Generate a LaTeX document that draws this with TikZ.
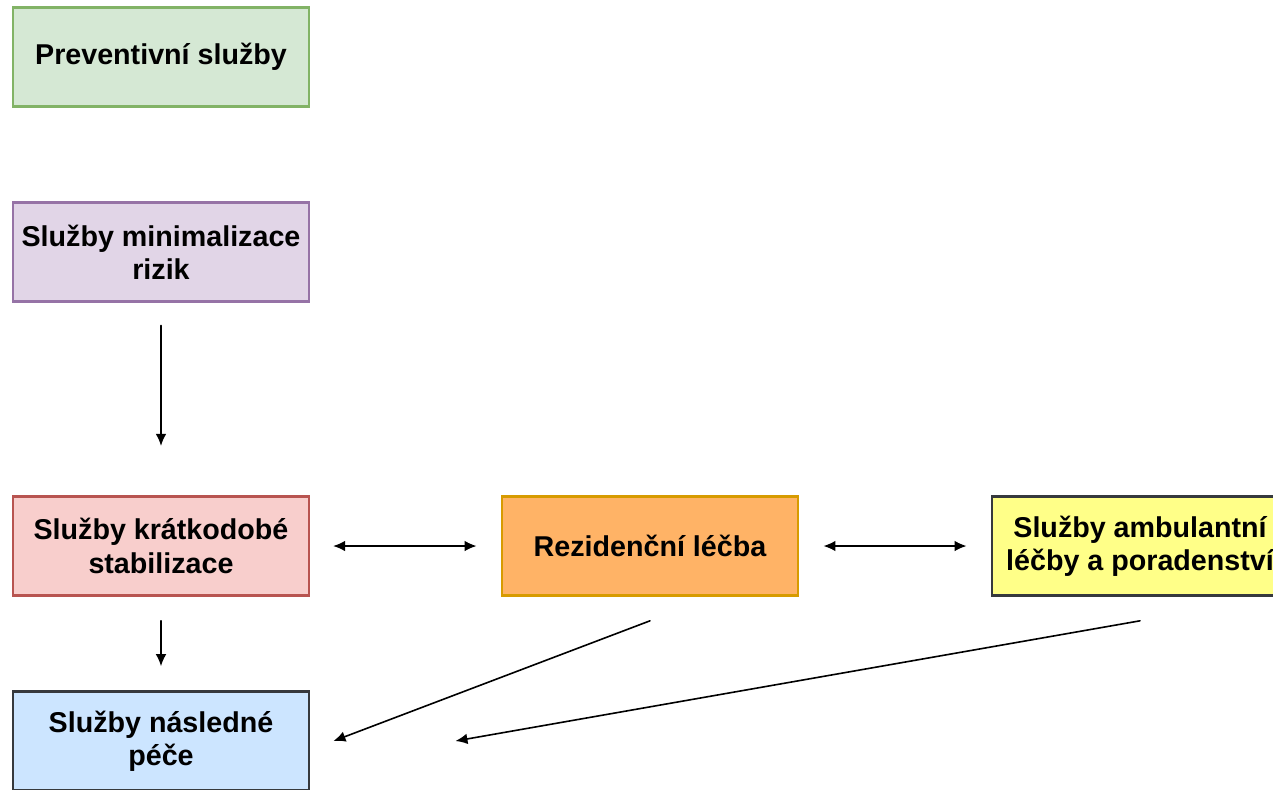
\documentclass[tikz,border=0pt]{standalone}
\usepackage{fontspec}
\setmainfont{Liberation Sans}
\usepackage{xcolor}
\usetikzlibrary{arrows.meta, calc}

\definecolor{prevfill}{HTML}{D5E8D4}
\definecolor{prevline}{HTML}{82B366}
\definecolor{minfill}{HTML}{E1D5E7}
\definecolor{minline}{HTML}{9673A6}
\definecolor{stabfill}{HTML}{F8CECC}
\definecolor{stabline}{HTML}{B85450}
\definecolor{rezfill}{HTML}{FFB366}
\definecolor{rezline}{HTML}{D79B00}
\definecolor{ambfill}{HTML}{FFFF88}
\definecolor{naslfill}{HTML}{CCE5FF}
\definecolor{darkline}{HTML}{36393D}

\tikzset{
  headtip/.tip={Latex[length=9pt, width=8pt]},
  service/.style={draw, line width=2.2pt, minimum width=222pt, minimum height=74pt,
    inner sep=0pt, align=center, font=\fontsize{21.5}{25}\selectfont\bfseries},
  flow/.style={line width=1.2pt, line cap=round}
}

\begin{document}
\begin{tikzpicture}[x=0.75pt, y=-0.75pt]
  \useasboundingbox (0,0) rectangle (1273,789);

  \node[service, fill=prevfill, draw=prevline] (prev) at (161,57) {Preventivní služby};
  \node[service, fill=minfill, draw=minline] (minrisk) at (161,252) {Služby minimalizace\\rizik};
  \node[service, fill=stabfill, draw=stabline] (stab) at (161,546) {Služby krátkodobé\\stabilizace};
  \node[service, fill=rezfill, draw=rezline] (rez) at (650,546) {Rezidenční léčba};
  \node[service, fill=ambfill, draw=darkline] (amb) at (1140,546) {Služby ambulantní\\léčby a poradenství};
  \node[service, fill=naslfill, draw=darkline] (nasl) at (161,741) {Služby následné\\péče};

  \coordinate (rezout) at ($(rez.south)+(0,24)$);
  \coordinate (ambout) at ($(amb.south)+(0,24)$);
  \coordinate (naslin1) at ($(nasl.east)+(23,0)$);
  \coordinate (naslin2) at ($(nasl.east)+(145,0)$);

  \draw[flow, -headtip, shorten <=17pt, shorten >=37pt] (minrisk) -- (stab);
  \draw[flow, -headtip, shorten <=18pt, shorten >=18pt] (stab) -- (nasl);
  \draw[flow, headtip-headtip, shorten <=17pt, shorten >=18pt] (stab) -- (rez);
  \draw[flow, headtip-headtip, shorten <=18pt, shorten >=18pt] (rez) -- (amb);
  \draw[flow, -headtip] (rezout) -- (naslin1);
  \draw[flow, -headtip] (ambout) -- (naslin2);
\end{tikzpicture}
\end{document}
